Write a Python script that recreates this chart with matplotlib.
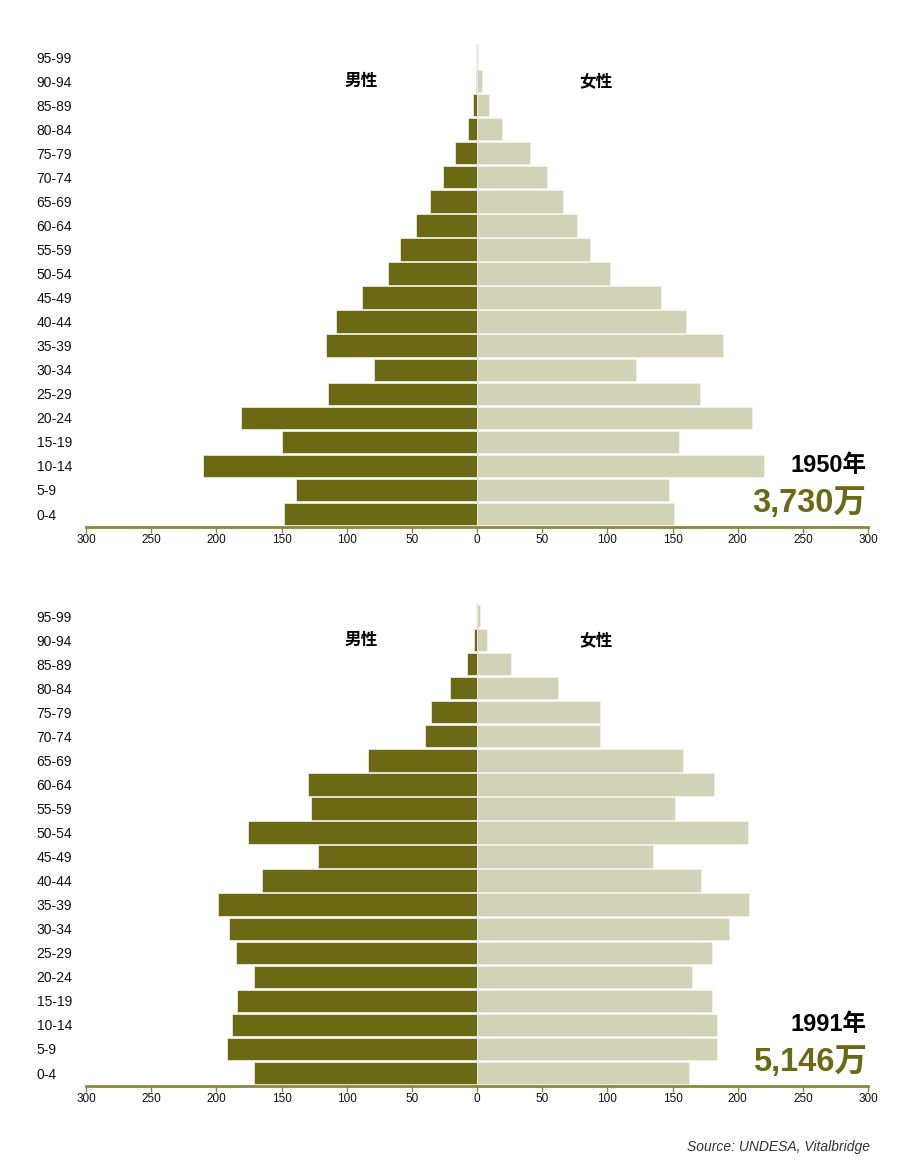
import matplotlib.pyplot as plt
import numpy as np

# age groups, youngest first
ages = ['0-4', '5-9', '10-14', '15-19', '20-24', '25-29', '30-34', '35-39',
        '40-44', '45-49', '50-54', '55-59', '60-64', '65-69', '70-74',
        '75-79', '80-84', '85-89', '90-94', '95-99']

# population (10k persons)
male_1950 = [148, 139, 210, 150, 181, 114, 79, 116, 108, 88,
             68, 59, 47, 36, 26, 17, 7, 3, 1, 0.3]
female_1950 = [151, 147, 220, 155, 211, 171, 122, 189, 160, 141,
               102, 87, 77, 66, 54, 41, 19, 9, 4, 0.5]
male_1991 = [171, 192, 188, 184, 171, 185, 190, 199, 165, 122,
             176, 127, 130, 84, 40, 35, 21, 8, 2, 0.3]
female_1991 = [163, 184, 184, 180, 165, 180, 193, 209, 172, 135,
               208, 152, 182, 158, 94, 94, 62, 26, 8, 2]

years = ['1950年', '1991年']
totals = ['3,730万', '5,146万']

male_color = '#6b6914'
female_color = '#d2d2b7'
axis_color = '#8a883c'

plt.rcParams['font.family'] = ['Liberation Sans', 'Noto Sans CJK SC', 'DejaVu Sans']

fig = plt.figure(figsize=(9.24, 11.65), dpi=100)
left = 86 / 924
width = 782 / 924
height = 482 / 1165
bottoms = [(1165 - 527) / 1165, (1165 - 1086) / 1165]

panels = [(male_1950, female_1950), (male_1991, female_1991)]
y = np.arange(len(ages))

for i, (male, female) in enumerate(panels):
    ax = fig.add_axes([left, bottoms[i], width, height])
    ax.axvline(0, color='#cfcfcf', lw=1, zorder=0)
    ax.barh(y, -np.array(male), height=0.93, color=male_color,
            edgecolor='#f4f4ee', linewidth=0.5, zorder=2)
    ax.barh(y, female, height=0.93, color=female_color,
            edgecolor='#f4f4ee', linewidth=0.5, zorder=2)

    ax.set_xlim(-300, 300)
    ax.set_ylim(-0.54, 19.5)
    xt = np.arange(-300, 301, 50)
    ax.set_xticks(xt)
    ax.set_xticklabels([str(abs(v)) for v in xt], fontsize=8.5, color='#111111')
    ax.set_yticks(y)
    ax.set_yticklabels(ages, fontsize=10, ha='left', color='#111111')
    ax.tick_params(axis='y', length=0, pad=35.5)
    ax.tick_params(axis='x', length=4, width=1, color=axis_color, pad=1)

    for s in ['top', 'right', 'left']:
        ax.spines[s].set_visible(False)
    ax.spines['bottom'].set_color(axis_color)
    ax.spines['bottom'].set_linewidth(2)

    ax.text(-89, 18, '男性', fontsize=12, fontweight='bold',
            family=['Noto Sans CJK SC'], ha='center', va='center')
    ax.text(91, 18, '女性', fontsize=12, fontweight='bold',
            family=['Noto Sans CJK SC'], ha='center', va='center')

    ax.text(299, 2.0, years[i], fontsize=17, fontweight='bold',
            ha='right', va='center', color='black')
    ax.text(299, 0.45, totals[i], fontsize=23.5, fontweight='bold',
            ha='right', va='center', color=male_color)

fig.text(870 / 924, 1 - 1147 / 1165, 'Source: UNDESA, Vitalbridge',
         fontsize=10, style='italic', ha='right', va='center', color='#333333')

fig.savefig('out.png', dpi=100)
